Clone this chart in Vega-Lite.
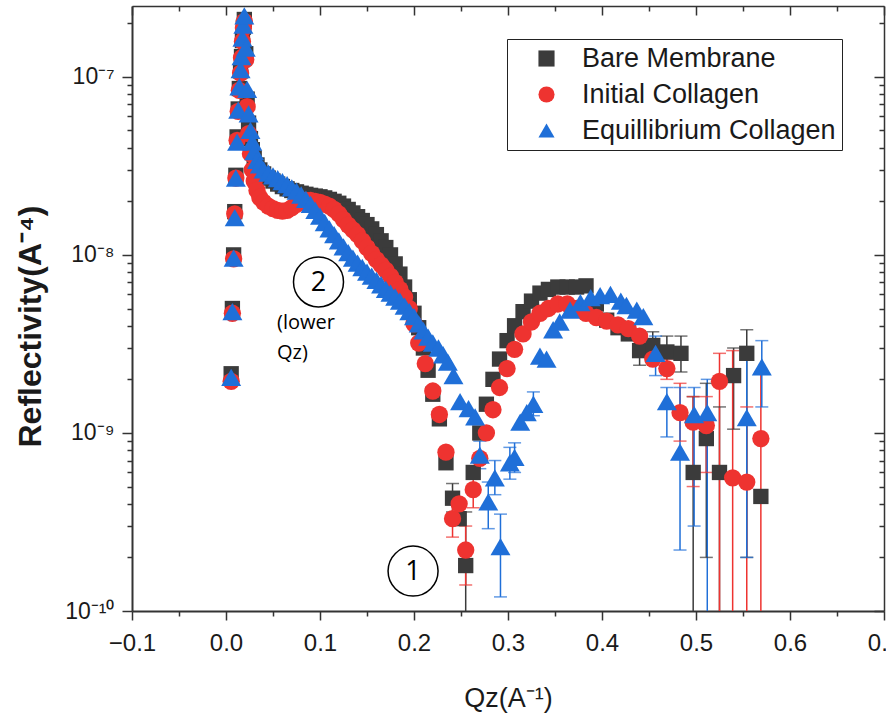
{
  "$schema": "https://vega.github.io/schema/vega-lite/v6.json",
  "width": 752,
  "height": 605,
  "autosize": {"type": "none"},
  "padding": {"left": 132, "top": 6, "right": 2, "bottom": 102},
  "background": "white",
  "datasets": {
    "pts": [
      {"series": "Bare Membrane", "q": 0.0055, "r": 2.15e-9},
      {"series": "Bare Membrane", "q": 0.0068, "r": 5.0e-9},
      {"series": "Bare Membrane", "q": 0.0081, "r": 1.0e-8},
      {"series": "Bare Membrane", "q": 0.0093, "r": 1.75e-8},
      {"series": "Bare Membrane", "q": 0.0105, "r": 2.8e-8},
      {"series": "Bare Membrane", "q": 0.0118, "r": 4.6e-8},
      {"series": "Bare Membrane", "q": 0.013, "r": 6.6e-8},
      {"series": "Bare Membrane", "q": 0.0142, "r": 8.6e-8},
      {"series": "Bare Membrane", "q": 0.0155, "r": 1.08e-7},
      {"series": "Bare Membrane", "q": 0.0165, "r": 1.3e-7},
      {"series": "Bare Membrane", "q": 0.0175, "r": 1.6e-7},
      {"series": "Bare Membrane", "q": 0.0185, "r": 1.9e-7},
      {"series": "Bare Membrane", "q": 0.0195, "r": 2.1e-7},
      {"series": "Bare Membrane", "q": 0.021, "r": 1.35e-7},
      {"series": "Bare Membrane", "q": 0.0225, "r": 7.5e-8},
      {"series": "Bare Membrane", "q": 0.024, "r": 5.5e-8},
      {"series": "Bare Membrane", "q": 0.026, "r": 4.5e-8},
      {"series": "Bare Membrane", "q": 0.028, "r": 3.9e-8},
      {"series": "Bare Membrane", "q": 0.03, "r": 3.5e-8},
      {"series": "Bare Membrane", "q": 0.033, "r": 3.2e-8},
      {"series": "Bare Membrane", "q": 0.036, "r": 3.0e-8},
      {"series": "Bare Membrane", "q": 0.04, "r": 2.85e-8},
      {"series": "Bare Membrane", "q": 0.045, "r": 2.7e-8},
      {"series": "Bare Membrane", "q": 0.05, "r": 2.6e-8},
      {"series": "Bare Membrane", "q": 0.055, "r": 2.5e-8},
      {"series": "Bare Membrane", "q": 0.06, "r": 2.42e-8},
      {"series": "Bare Membrane", "q": 0.065, "r": 2.35e-8},
      {"series": "Bare Membrane", "q": 0.07, "r": 2.3e-8},
      {"series": "Bare Membrane", "q": 0.075, "r": 2.26e-8},
      {"series": "Bare Membrane", "q": 0.08, "r": 2.22e-8},
      {"series": "Bare Membrane", "q": 0.085, "r": 2.19e-8},
      {"series": "Bare Membrane", "q": 0.09, "r": 2.16e-8},
      {"series": "Bare Membrane", "q": 0.095, "r": 2.14e-8},
      {"series": "Bare Membrane", "q": 0.1, "r": 2.12e-8},
      {"series": "Bare Membrane", "q": 0.105, "r": 2.09e-8},
      {"series": "Bare Membrane", "q": 0.11, "r": 2.05e-8},
      {"series": "Bare Membrane", "q": 0.115, "r": 2.0e-8},
      {"series": "Bare Membrane", "q": 0.12, "r": 1.95e-8},
      {"series": "Bare Membrane", "q": 0.125, "r": 1.88e-8},
      {"series": "Bare Membrane", "q": 0.13, "r": 1.8e-8},
      {"series": "Bare Membrane", "q": 0.135, "r": 1.72e-8},
      {"series": "Bare Membrane", "q": 0.14, "r": 1.64e-8},
      {"series": "Bare Membrane", "q": 0.145, "r": 1.56e-8},
      {"series": "Bare Membrane", "q": 0.15, "r": 1.48e-8},
      {"series": "Bare Membrane", "q": 0.155, "r": 1.4e-8},
      {"series": "Bare Membrane", "q": 0.16, "r": 1.3e-8},
      {"series": "Bare Membrane", "q": 0.165, "r": 1.2e-8},
      {"series": "Bare Membrane", "q": 0.17, "r": 1.1e-8},
      {"series": "Bare Membrane", "q": 0.175, "r": 1.0e-8},
      {"series": "Bare Membrane", "q": 0.18, "r": 8.9e-9},
      {"series": "Bare Membrane", "q": 0.185, "r": 7.8e-9},
      {"series": "Bare Membrane", "q": 0.19, "r": 6.6e-9},
      {"series": "Bare Membrane", "q": 0.195, "r": 5.6e-9},
      {"series": "Bare Membrane", "q": 0.2, "r": 4.7e-9},
      {"series": "Bare Membrane", "q": 0.205, "r": 3.9e-9},
      {"series": "Bare Membrane", "q": 0.21, "r": 3.0e-9},
      {"series": "Bare Membrane", "q": 0.215, "r": 2.25e-9},
      {"series": "Bare Membrane", "q": 0.22, "r": 1.65e-9},
      {"series": "Bare Membrane", "q": 0.227, "r": 1.2e-9},
      {"series": "Bare Membrane", "q": 0.234, "r": 6.8e-10},
      {"series": "Bare Membrane", "q": 0.241, "r": 4.3e-10},
      {"series": "Bare Membrane", "q": 0.248, "r": 3.3e-10},
      {"series": "Bare Membrane", "q": 0.255, "r": 1.8e-10},
      {"series": "Bare Membrane", "q": 0.263, "r": 6.0e-10},
      {"series": "Bare Membrane", "q": 0.27, "r": 1.0e-9},
      {"series": "Bare Membrane", "q": 0.277, "r": 1.45e-9},
      {"series": "Bare Membrane", "q": 0.284, "r": 2.0e-9},
      {"series": "Bare Membrane", "q": 0.291, "r": 2.6e-9},
      {"series": "Bare Membrane", "q": 0.299, "r": 3.3e-9},
      {"series": "Bare Membrane", "q": 0.307, "r": 4.0e-9},
      {"series": "Bare Membrane", "q": 0.316, "r": 4.8e-9},
      {"series": "Bare Membrane", "q": 0.325, "r": 5.5e-9},
      {"series": "Bare Membrane", "q": 0.334, "r": 6.1e-9},
      {"series": "Bare Membrane", "q": 0.343, "r": 6.4e-9},
      {"series": "Bare Membrane", "q": 0.353, "r": 6.6e-9},
      {"series": "Bare Membrane", "q": 0.363, "r": 6.6e-9},
      {"series": "Bare Membrane", "q": 0.373, "r": 6.6e-9},
      {"series": "Bare Membrane", "q": 0.383, "r": 6.7e-9},
      {"series": "Bare Membrane", "q": 0.394, "r": 5.3e-9},
      {"series": "Bare Membrane", "q": 0.405, "r": 4.3e-9},
      {"series": "Bare Membrane", "q": 0.417, "r": 3.9e-9},
      {"series": "Bare Membrane", "q": 0.428, "r": 3.6e-9},
      {"series": "Bare Membrane", "q": 0.44, "r": 2.9e-9},
      {"series": "Bare Membrane", "q": 0.454, "r": 3.1e-9},
      {"series": "Bare Membrane", "q": 0.469, "r": 2.85e-9},
      {"series": "Bare Membrane", "q": 0.484, "r": 2.8e-9},
      {"series": "Bare Membrane", "q": 0.497, "r": 6.0e-10},
      {"series": "Bare Membrane", "q": 0.511, "r": 9.3e-10},
      {"series": "Bare Membrane", "q": 0.525, "r": 6.0e-10},
      {"series": "Bare Membrane", "q": 0.54, "r": 2.1e-9},
      {"series": "Bare Membrane", "q": 0.554, "r": 2.8e-9},
      {"series": "Bare Membrane", "q": 0.569, "r": 4.4e-10},

      {"series": "Initial Collagen", "q": 0.0055, "r": 1.95e-9},
      {"series": "Initial Collagen", "q": 0.0068, "r": 4.7e-9},
      {"series": "Initial Collagen", "q": 0.0081, "r": 9.5e-9},
      {"series": "Initial Collagen", "q": 0.0093, "r": 1.7e-8},
      {"series": "Initial Collagen", "q": 0.0105, "r": 2.7e-8},
      {"series": "Initial Collagen", "q": 0.0118, "r": 4.4e-8},
      {"series": "Initial Collagen", "q": 0.013, "r": 6.4e-8},
      {"series": "Initial Collagen", "q": 0.0142, "r": 8.4e-8},
      {"series": "Initial Collagen", "q": 0.0155, "r": 1.05e-7},
      {"series": "Initial Collagen", "q": 0.0165, "r": 1.28e-7},
      {"series": "Initial Collagen", "q": 0.0175, "r": 1.58e-7},
      {"series": "Initial Collagen", "q": 0.0185, "r": 1.88e-7},
      {"series": "Initial Collagen", "q": 0.0195, "r": 2.05e-7},
      {"series": "Initial Collagen", "q": 0.021, "r": 1.25e-7},
      {"series": "Initial Collagen", "q": 0.0225, "r": 6.8e-8},
      {"series": "Initial Collagen", "q": 0.024, "r": 4.8e-8},
      {"series": "Initial Collagen", "q": 0.026, "r": 3.7e-8},
      {"series": "Initial Collagen", "q": 0.028, "r": 3.0e-8},
      {"series": "Initial Collagen", "q": 0.03, "r": 2.6e-8},
      {"series": "Initial Collagen", "q": 0.033, "r": 2.3e-8},
      {"series": "Initial Collagen", "q": 0.036, "r": 2.1e-8},
      {"series": "Initial Collagen", "q": 0.04, "r": 1.98e-8},
      {"series": "Initial Collagen", "q": 0.045, "r": 1.88e-8},
      {"series": "Initial Collagen", "q": 0.05, "r": 1.82e-8},
      {"series": "Initial Collagen", "q": 0.055, "r": 1.78e-8},
      {"series": "Initial Collagen", "q": 0.06, "r": 1.76e-8},
      {"series": "Initial Collagen", "q": 0.065, "r": 1.78e-8},
      {"series": "Initial Collagen", "q": 0.07, "r": 1.84e-8},
      {"series": "Initial Collagen", "q": 0.075, "r": 1.92e-8},
      {"series": "Initial Collagen", "q": 0.08, "r": 1.98e-8},
      {"series": "Initial Collagen", "q": 0.085, "r": 2.02e-8},
      {"series": "Initial Collagen", "q": 0.09, "r": 2.02e-8},
      {"series": "Initial Collagen", "q": 0.095, "r": 2.0e-8},
      {"series": "Initial Collagen", "q": 0.1, "r": 1.97e-8},
      {"series": "Initial Collagen", "q": 0.105, "r": 1.93e-8},
      {"series": "Initial Collagen", "q": 0.11, "r": 1.88e-8},
      {"series": "Initial Collagen", "q": 0.115, "r": 1.8e-8},
      {"series": "Initial Collagen", "q": 0.12, "r": 1.7e-8},
      {"series": "Initial Collagen", "q": 0.125, "r": 1.58e-8},
      {"series": "Initial Collagen", "q": 0.13, "r": 1.47e-8},
      {"series": "Initial Collagen", "q": 0.135, "r": 1.38e-8},
      {"series": "Initial Collagen", "q": 0.14, "r": 1.3e-8},
      {"series": "Initial Collagen", "q": 0.145, "r": 1.2e-8},
      {"series": "Initial Collagen", "q": 0.15, "r": 1.1e-8},
      {"series": "Initial Collagen", "q": 0.155, "r": 1.02e-8},
      {"series": "Initial Collagen", "q": 0.16, "r": 9.4e-9},
      {"series": "Initial Collagen", "q": 0.165, "r": 8.8e-9},
      {"series": "Initial Collagen", "q": 0.17, "r": 8.2e-9},
      {"series": "Initial Collagen", "q": 0.175, "r": 7.6e-9},
      {"series": "Initial Collagen", "q": 0.18, "r": 7.0e-9},
      {"series": "Initial Collagen", "q": 0.185, "r": 6.4e-9},
      {"series": "Initial Collagen", "q": 0.19, "r": 5.8e-9},
      {"series": "Initial Collagen", "q": 0.195, "r": 5.0e-9},
      {"series": "Initial Collagen", "q": 0.2, "r": 4.1e-9},
      {"series": "Initial Collagen", "q": 0.205, "r": 3.2e-9},
      {"series": "Initial Collagen", "q": 0.212, "r": 2.45e-9},
      {"series": "Initial Collagen", "q": 0.22, "r": 1.72e-9},
      {"series": "Initial Collagen", "q": 0.227, "r": 1.27e-9},
      {"series": "Initial Collagen", "q": 0.234, "r": 7.8e-10},
      {"series": "Initial Collagen", "q": 0.241, "r": 3.3e-10},
      {"series": "Initial Collagen", "q": 0.248, "r": 4.0e-10},
      {"series": "Initial Collagen", "q": 0.255, "r": 2.2e-10},
      {"series": "Initial Collagen", "q": 0.263, "r": 4.8e-10},
      {"series": "Initial Collagen", "q": 0.27, "r": 7.2e-10},
      {"series": "Initial Collagen", "q": 0.277, "r": 1.0e-9},
      {"series": "Initial Collagen", "q": 0.284, "r": 1.35e-9},
      {"series": "Initial Collagen", "q": 0.291, "r": 1.8e-9},
      {"series": "Initial Collagen", "q": 0.299, "r": 2.3e-9},
      {"series": "Initial Collagen", "q": 0.307, "r": 2.95e-9},
      {"series": "Initial Collagen", "q": 0.316, "r": 3.6e-9},
      {"series": "Initial Collagen", "q": 0.325, "r": 4.2e-9},
      {"series": "Initial Collagen", "q": 0.334, "r": 4.7e-9},
      {"series": "Initial Collagen", "q": 0.343, "r": 5.0e-9},
      {"series": "Initial Collagen", "q": 0.353, "r": 5.3e-9},
      {"series": "Initial Collagen", "q": 0.363, "r": 5.3e-9},
      {"series": "Initial Collagen", "q": 0.373, "r": 5.0e-9},
      {"series": "Initial Collagen", "q": 0.383, "r": 4.7e-9},
      {"series": "Initial Collagen", "q": 0.394, "r": 4.45e-9},
      {"series": "Initial Collagen", "q": 0.405, "r": 4.25e-9},
      {"series": "Initial Collagen", "q": 0.417, "r": 4.05e-9},
      {"series": "Initial Collagen", "q": 0.428, "r": 3.85e-9},
      {"series": "Initial Collagen", "q": 0.44, "r": 3.5e-9},
      {"series": "Initial Collagen", "q": 0.454, "r": 2.6e-9},
      {"series": "Initial Collagen", "q": 0.469, "r": 2.3e-9},
      {"series": "Initial Collagen", "q": 0.483, "r": 1.3e-9},
      {"series": "Initial Collagen", "q": 0.497, "r": 1.15e-9},
      {"series": "Initial Collagen", "q": 0.511, "r": 1.1e-9},
      {"series": "Initial Collagen", "q": 0.525, "r": 1.95e-9},
      {"series": "Initial Collagen", "q": 0.539, "r": 5.6e-10},
      {"series": "Initial Collagen", "q": 0.554, "r": 5.3e-10},
      {"series": "Initial Collagen", "q": 0.569, "r": 9.3e-10},

      {"series": "Equillibrium Collagen", "q": 0.0055, "r": 2.05e-9},
      {"series": "Equillibrium Collagen", "q": 0.0068, "r": 4.8e-9},
      {"series": "Equillibrium Collagen", "q": 0.0081, "r": 9.6e-9},
      {"series": "Equillibrium Collagen", "q": 0.0093, "r": 1.62e-8},
      {"series": "Equillibrium Collagen", "q": 0.0105, "r": 2.7e-8},
      {"series": "Equillibrium Collagen", "q": 0.0118, "r": 4.3e-8},
      {"series": "Equillibrium Collagen", "q": 0.013, "r": 6.5e-8},
      {"series": "Equillibrium Collagen", "q": 0.0142, "r": 8.8e-8},
      {"series": "Equillibrium Collagen", "q": 0.0155, "r": 1.1e-7},
      {"series": "Equillibrium Collagen", "q": 0.0165, "r": 1.3e-7},
      {"series": "Equillibrium Collagen", "q": 0.0175, "r": 1.65e-7},
      {"series": "Equillibrium Collagen", "q": 0.0185, "r": 1.95e-7},
      {"series": "Equillibrium Collagen", "q": 0.0195, "r": 2.2e-7},
      {"series": "Equillibrium Collagen", "q": 0.021, "r": 1.45e-7},
      {"series": "Equillibrium Collagen", "q": 0.0225, "r": 8.5e-8},
      {"series": "Equillibrium Collagen", "q": 0.024, "r": 6.2e-8},
      {"series": "Equillibrium Collagen", "q": 0.026, "r": 5.0e-8},
      {"series": "Equillibrium Collagen", "q": 0.028, "r": 4.3e-8},
      {"series": "Equillibrium Collagen", "q": 0.03, "r": 3.8e-8},
      {"series": "Equillibrium Collagen", "q": 0.033, "r": 3.4e-8},
      {"series": "Equillibrium Collagen", "q": 0.036, "r": 3.2e-8},
      {"series": "Equillibrium Collagen", "q": 0.04, "r": 3.0e-8},
      {"series": "Equillibrium Collagen", "q": 0.045, "r": 2.88e-8},
      {"series": "Equillibrium Collagen", "q": 0.05, "r": 2.78e-8},
      {"series": "Equillibrium Collagen", "q": 0.055, "r": 2.68e-8},
      {"series": "Equillibrium Collagen", "q": 0.06, "r": 2.58e-8},
      {"series": "Equillibrium Collagen", "q": 0.065, "r": 2.48e-8},
      {"series": "Equillibrium Collagen", "q": 0.07, "r": 2.38e-8},
      {"series": "Equillibrium Collagen", "q": 0.075, "r": 2.28e-8},
      {"series": "Equillibrium Collagen", "q": 0.08, "r": 2.17e-8},
      {"series": "Equillibrium Collagen", "q": 0.085, "r": 2.05e-8},
      {"series": "Equillibrium Collagen", "q": 0.09, "r": 1.92e-8},
      {"series": "Equillibrium Collagen", "q": 0.095, "r": 1.78e-8},
      {"series": "Equillibrium Collagen", "q": 0.1, "r": 1.65e-8},
      {"series": "Equillibrium Collagen", "q": 0.105, "r": 1.52e-8},
      {"series": "Equillibrium Collagen", "q": 0.11, "r": 1.4e-8},
      {"series": "Equillibrium Collagen", "q": 0.115, "r": 1.3e-8},
      {"series": "Equillibrium Collagen", "q": 0.12, "r": 1.2e-8},
      {"series": "Equillibrium Collagen", "q": 0.125, "r": 1.11e-8},
      {"series": "Equillibrium Collagen", "q": 0.13, "r": 1.03e-8},
      {"series": "Equillibrium Collagen", "q": 0.135, "r": 9.6e-9},
      {"series": "Equillibrium Collagen", "q": 0.14, "r": 9.0e-9},
      {"series": "Equillibrium Collagen", "q": 0.145, "r": 8.5e-9},
      {"series": "Equillibrium Collagen", "q": 0.15, "r": 8.0e-9},
      {"series": "Equillibrium Collagen", "q": 0.155, "r": 7.6e-9},
      {"series": "Equillibrium Collagen", "q": 0.16, "r": 7.2e-9},
      {"series": "Equillibrium Collagen", "q": 0.165, "r": 6.8e-9},
      {"series": "Equillibrium Collagen", "q": 0.17, "r": 6.4e-9},
      {"series": "Equillibrium Collagen", "q": 0.175, "r": 6.1e-9},
      {"series": "Equillibrium Collagen", "q": 0.18, "r": 5.8e-9},
      {"series": "Equillibrium Collagen", "q": 0.185, "r": 5.5e-9},
      {"series": "Equillibrium Collagen", "q": 0.19, "r": 5.15e-9},
      {"series": "Equillibrium Collagen", "q": 0.195, "r": 4.8e-9},
      {"series": "Equillibrium Collagen", "q": 0.2, "r": 4.5e-9},
      {"series": "Equillibrium Collagen", "q": 0.205, "r": 4.1e-9},
      {"series": "Equillibrium Collagen", "q": 0.21, "r": 3.75e-9},
      {"series": "Equillibrium Collagen", "q": 0.215, "r": 3.45e-9},
      {"series": "Equillibrium Collagen", "q": 0.22, "r": 3.2e-9},
      {"series": "Equillibrium Collagen", "q": 0.226, "r": 3.0e-9},
      {"series": "Equillibrium Collagen", "q": 0.231, "r": 2.75e-9},
      {"series": "Equillibrium Collagen", "q": 0.236, "r": 2.5e-9},
      {"series": "Equillibrium Collagen", "q": 0.242, "r": 2.1e-9},
      {"series": "Equillibrium Collagen", "q": 0.249, "r": 1.5e-9},
      {"series": "Equillibrium Collagen", "q": 0.258, "r": 1.37e-9},
      {"series": "Equillibrium Collagen", "q": 0.265, "r": 1.23e-9},
      {"series": "Equillibrium Collagen", "q": 0.27, "r": 7.5e-10},
      {"series": "Equillibrium Collagen", "q": 0.279, "r": 4.1e-10},
      {"series": "Equillibrium Collagen", "q": 0.286, "r": 5.6e-10},
      {"series": "Equillibrium Collagen", "q": 0.292, "r": 2.3e-10},
      {"series": "Equillibrium Collagen", "q": 0.302, "r": 6.8e-10},
      {"series": "Equillibrium Collagen", "q": 0.307, "r": 7.3e-10},
      {"series": "Equillibrium Collagen", "q": 0.313, "r": 1.15e-9},
      {"series": "Equillibrium Collagen", "q": 0.32, "r": 1.3e-9},
      {"series": "Equillibrium Collagen", "q": 0.327, "r": 1.45e-9},
      {"series": "Equillibrium Collagen", "q": 0.334, "r": 2.7e-9},
      {"series": "Equillibrium Collagen", "q": 0.341, "r": 2.6e-9},
      {"series": "Equillibrium Collagen", "q": 0.348, "r": 3.8e-9},
      {"series": "Equillibrium Collagen", "q": 0.355, "r": 4.2e-9},
      {"series": "Equillibrium Collagen", "q": 0.366, "r": 4.9e-9},
      {"series": "Equillibrium Collagen", "q": 0.377, "r": 5.4e-9},
      {"series": "Equillibrium Collagen", "q": 0.388, "r": 5.75e-9},
      {"series": "Equillibrium Collagen", "q": 0.398, "r": 5.9e-9},
      {"series": "Equillibrium Collagen", "q": 0.409, "r": 6.0e-9},
      {"series": "Equillibrium Collagen", "q": 0.42, "r": 5.5e-9},
      {"series": "Equillibrium Collagen", "q": 0.426, "r": 5.2e-9},
      {"series": "Equillibrium Collagen", "q": 0.437, "r": 4.9e-9},
      {"series": "Equillibrium Collagen", "q": 0.444, "r": 4.5e-9},
      {"series": "Equillibrium Collagen", "q": 0.457, "r": 2.8e-9},
      {"series": "Equillibrium Collagen", "q": 0.469, "r": 1.5e-9},
      {"series": "Equillibrium Collagen", "q": 0.483, "r": 7.8e-10},
      {"series": "Equillibrium Collagen", "q": 0.498, "r": 1.27e-9},
      {"series": "Equillibrium Collagen", "q": 0.512, "r": 1.3e-9},
      {"series": "Equillibrium Collagen", "q": 0.554, "r": 1.22e-9},
      {"series": "Equillibrium Collagen", "q": 0.57, "r": 2.35e-9}
    ],
    "err": [
      {"series": "Bare Membrane", "q": 0.241, "lo": 3.6e-10, "hi": 5.2e-10},
      {"series": "Bare Membrane", "q": 0.255, "lo": 1e-11, "hi": 3.6e-10},
      {"series": "Bare Membrane", "q": 0.44, "lo": 2.4e-9, "hi": 3.5e-9},
      {"series": "Bare Membrane", "q": 0.454, "lo": 2.5e-9, "hi": 3.7e-9},
      {"series": "Bare Membrane", "q": 0.469, "lo": 2.3e-9, "hi": 3.5e-9},
      {"series": "Bare Membrane", "q": 0.484, "lo": 2.2e-9, "hi": 3.5e-9},
      {"series": "Bare Membrane", "q": 0.497, "lo": 1e-11, "hi": 1.6e-9},
      {"series": "Bare Membrane", "q": 0.511, "lo": 2.0e-10, "hi": 1.9e-9},
      {"series": "Bare Membrane", "q": 0.525, "lo": 1e-11, "hi": 1.4e-9},
      {"series": "Bare Membrane", "q": 0.54, "lo": 1.05e-9, "hi": 3.0e-9},
      {"series": "Bare Membrane", "q": 0.554, "lo": 2.0e-10, "hi": 3.8e-9},
      {"series": "Initial Collagen", "q": 0.241, "lo": 2.6e-10, "hi": 4.2e-10},
      {"series": "Initial Collagen", "q": 0.255, "lo": 1.4e-10, "hi": 3.0e-10},
      {"series": "Initial Collagen", "q": 0.263, "lo": 3.8e-10, "hi": 6.0e-10},
      {"series": "Initial Collagen", "q": 0.469, "lo": 2.0e-9, "hi": 2.6e-9},
      {"series": "Initial Collagen", "q": 0.483, "lo": 9.0e-10, "hi": 1.9e-9},
      {"series": "Initial Collagen", "q": 0.497, "lo": 5.0e-10, "hi": 1.6e-9},
      {"series": "Initial Collagen", "q": 0.511, "lo": 6.0e-10, "hi": 1.6e-9},
      {"series": "Initial Collagen", "q": 0.525, "lo": 1e-11, "hi": 2.8e-9},
      {"series": "Initial Collagen", "q": 0.539, "lo": 1e-11, "hi": 2.9e-9},
      {"series": "Initial Collagen", "q": 0.554, "lo": 1e-11, "hi": 1.4e-9},
      {"series": "Initial Collagen", "q": 0.569, "lo": 1e-11, "hi": 2.2e-9},
      {"series": "Equillibrium Collagen", "q": 0.27, "lo": 6.3e-10, "hi": 9.0e-10},
      {"series": "Equillibrium Collagen", "q": 0.279, "lo": 2.9e-10, "hi": 5.3e-10},
      {"series": "Equillibrium Collagen", "q": 0.286, "lo": 4.5e-10, "hi": 7.0e-10},
      {"series": "Equillibrium Collagen", "q": 0.292, "lo": 1.2e-10, "hi": 3.5e-10},
      {"series": "Equillibrium Collagen", "q": 0.302, "lo": 5.5e-10, "hi": 8.3e-10},
      {"series": "Equillibrium Collagen", "q": 0.307, "lo": 6.0e-10, "hi": 8.8e-10},
      {"series": "Equillibrium Collagen", "q": 0.327, "lo": 1.25e-9, "hi": 1.7e-9},
      {"series": "Equillibrium Collagen", "q": 0.457, "lo": 2.1e-9, "hi": 3.5e-9},
      {"series": "Equillibrium Collagen", "q": 0.469, "lo": 9.5e-10, "hi": 1.8e-9},
      {"series": "Equillibrium Collagen", "q": 0.483, "lo": 2.2e-10, "hi": 1.8e-9},
      {"series": "Equillibrium Collagen", "q": 0.498, "lo": 3.0e-10, "hi": 1.8e-9},
      {"series": "Equillibrium Collagen", "q": 0.512, "lo": 1e-11, "hi": 2.0e-9},
      {"series": "Equillibrium Collagen", "q": 0.554, "lo": 2.0e-10, "hi": 3.0e-9},
      {"series": "Equillibrium Collagen", "q": 0.57, "lo": 1.4e-9, "hi": 3.3e-9}
    ],
    "circles": [
      {"q": 0.0984, "r": 7.05e-9, "label": "2"},
      {"q": 0.199, "r": 1.675e-10, "label": "1"}
    ],
    "notes": [
      {"q": 0.0543, "r": 3.82e-9, "label": "(lower"},
      {"q": 0.0543, "r": 2.6e-9, "label": "Qz)"}
    ]
  },
  "layer": [
    {
      "layer": [
        {
          "data": {"name": "err"},
          "mark": {"type": "rule", "strokeWidth": 1.5},
          "encoding": {
            "x": {"field": "q", "type": "quantitative", "scale": {"domain": [-0.1, 0.7], "nice": false, "zero": false}},
            "y": {"field": "lo", "type": "quantitative", "scale": {"type": "log", "domain": [1e-10, 2.5e-7], "nice": false, "clamp": true}},
            "y2": {"field": "hi"},
            "color": {"field": "series", "type": "nominal", "scale": {"domain": ["Bare Membrane", "Initial Collagen", "Equillibrium Collagen"], "range": ["#3b3b3b", "#ee3330", "#1f6fd8"]}}
          }
        },
        {
          "data": {"name": "err"},
          "mark": {"type": "tick", "orient": "horizontal", "size": 13, "thickness": 1.5},
          "encoding": {
            "x": {"field": "q", "type": "quantitative"},
            "y": {"field": "hi", "type": "quantitative"},
            "color": {"field": "series", "type": "nominal"}
          }
        },
        {
          "data": {"name": "err"},
          "transform": [{"filter": "datum.lo >= 1e-10"}],
          "mark": {"type": "tick", "orient": "horizontal", "size": 13, "thickness": 1.5},
          "encoding": {
            "x": {"field": "q", "type": "quantitative"},
            "y": {"field": "lo", "type": "quantitative"},
            "color": {"field": "series", "type": "nominal"}
          }
        },
        {
          "data": {"name": "pts"},
          "transform": [{"filter": "datum.series == 'Bare Membrane'"}],
          "mark": {"type": "point", "filled": true, "opacity": 1, "size": 235},
          "encoding": {
            "x": {
              "field": "q", "type": "quantitative",
              "title": "Qz(A⁻¹)",
              "axis": {
                "values": [-0.1, -0.05, 0, 0.05, 0.1, 0.15, 0.2, 0.25, 0.3, 0.35, 0.4, 0.45, 0.5, 0.55, 0.6, 0.65, 0.7],
                "labelExpr": "abs(datum.value*10 - round(datum.value*10)) < 0.01 ? format(datum.value, '.1f') : ''",
                "tickSize": {"condition": {"test": "abs(datum.value*10 - round(datum.value*10)) < 0.01", "value": 9}, "value": 5},
                "labelPadding": 11,
                "labelFontSize": 24,
                "labelOverlap": false,
                "labelFlush": false,
                "titleFontSize": 27,
                "titlePadding": 30,
                "titleFontWeight": "normal"
              }
            },
            "y": {
              "field": "r", "type": "quantitative",
              "title": "Reflectivity(A⁻⁴)",
              "axis": {
                "values": [1e-10, 2e-10, 3e-10, 4e-10, 5e-10, 6e-10, 7e-10, 8e-10, 9e-10, 1e-9, 2e-9, 3e-9, 4e-9, 5e-9, 6e-9, 7e-9, 8e-9, 9e-9, 1e-8, 2e-8, 3e-8, 4e-8, 5e-8, 6e-8, 7e-8, 8e-8, 9e-8, 1e-7, 2e-7],
                "labelExpr": "abs(log(datum.value)/LN10 - round(log(datum.value)/LN10)) < 0.01 ? (datum.value > 5e-8 ? '10⁻⁷' : datum.value > 5e-9 ? '10⁻⁸' : datum.value > 5e-10 ? '10⁻⁹' : '10⁻¹⁰') : ''",
                "tickSize": {"condition": {"test": "abs(log(datum.value)/LN10 - round(log(datum.value)/LN10)) < 0.01", "value": 10}, "value": 5},
                "labelPadding": 8,
                "labelFontSize": 23,
                "labelOverlap": false,
                "labelFlush": false,
                "titleFontSize": 32,
                "titleFontWeight": "bold",
                "titleX": -102,
                "titleY": 320,
                "titleBaseline": "middle",
                "titleAlign": "center"
              }
            },
            "color": {"field": "series", "type": "nominal", "title": null},
            "shape": {"field": "series", "type": "nominal", "title": null, "scale": {"domain": ["Bare Membrane", "Initial Collagen", "Equillibrium Collagen"], "range": ["square", "circle", "triangle-up"]}}
          }
        },
        {
          "data": {"name": "pts"},
          "transform": [{"filter": "datum.series == 'Initial Collagen'"}],
          "mark": {"type": "point", "filled": true, "opacity": 1, "size": 300},
          "encoding": {
            "x": {"field": "q", "type": "quantitative"},
            "y": {"field": "r", "type": "quantitative"},
            "color": {"field": "series", "type": "nominal", "title": null},
            "shape": {"field": "series", "type": "nominal", "title": null}
          }
        },
        {
          "data": {"name": "pts"},
          "transform": [{"filter": "datum.series == 'Equillibrium Collagen'"}],
          "mark": {"type": "point", "filled": true, "opacity": 1, "size": 400},
          "encoding": {
            "x": {"field": "q", "type": "quantitative"},
            "y": {"field": "r", "type": "quantitative"},
            "color": {"field": "series", "type": "nominal", "title": null},
            "shape": {"field": "series", "type": "nominal", "title": null}
          }
        },
        {
          "data": {"name": "circles"},
          "mark": {"type": "point", "shape": "circle", "filled": false, "stroke": "black", "strokeWidth": 1.5, "size": 2500, "opacity": 1},
          "encoding": {
            "x": {"field": "q", "type": "quantitative"},
            "y": {"field": "r", "type": "quantitative"}
          }
        },
        {
          "data": {"name": "circles"},
          "mark": {"type": "text", "font": "Open Sans", "fontSize": 27, "color": "black", "align": "center", "baseline": "middle", "dy": 1},
          "encoding": {
            "x": {"field": "q", "type": "quantitative"},
            "y": {"field": "r", "type": "quantitative"},
            "text": {"field": "label"}
          }
        },
        {
          "data": {"name": "notes"},
          "mark": {"type": "text", "font": "Open Sans", "fontSize": 20, "color": "black", "align": "left", "baseline": "alphabetic"},
          "encoding": {
            "x": {"field": "q", "type": "quantitative"},
            "y": {"field": "r", "type": "quantitative"},
            "text": {"field": "label"}
          }
        }
      ]
    },
    {
      "data": {"name": "circles"},
      "mark": {"type": "point", "opacity": 0},
      "encoding": {
        "x": {
          "field": "q", "type": "quantitative",
          "scale": {"domain": [-0.1, 0.7], "nice": false, "zero": false},
          "axis": {
            "orient": "top", "title": null, "labels": false,
            "values": [-0.1, -0.05, 0, 0.05, 0.1, 0.15, 0.2, 0.25, 0.3, 0.35, 0.4, 0.45, 0.5, 0.55, 0.6, 0.65, 0.7],
            "tickSize": {"condition": {"test": "abs(datum.value*10 - round(datum.value*10)) < 0.01", "value": -9}, "value": -5},
            "domainWidth": 1.5
          }
        },
        "y": {
          "field": "r", "type": "quantitative",
          "scale": {"type": "log", "domain": [1e-10, 2.5e-7], "nice": false, "clamp": true},
          "axis": {
            "orient": "right", "title": null, "labels": false,
            "values": [1e-10, 2e-10, 3e-10, 4e-10, 5e-10, 6e-10, 7e-10, 8e-10, 9e-10, 1e-9, 2e-9, 3e-9, 4e-9, 5e-9, 6e-9, 7e-9, 8e-9, 9e-9, 1e-8, 2e-8, 3e-8, 4e-8, 5e-8, 6e-8, 7e-8, 8e-8, 9e-8, 1e-7, 2e-7],
            "tickSize": {"condition": {"test": "abs(log(datum.value)/LN10 - round(log(datum.value)/LN10)) < 0.01", "value": -10}, "value": -5},
            "domainWidth": 1.5
          }
        }
      }
    }
  ],
  "resolve": {"axis": {"x": "independent", "y": "independent"}},
  "config": {
    "view": {"stroke": null},
    "font": "Liberation Sans",
    "axis": {
      "labelFont": "Liberation Sans",
      "labelFontSize": 23,
      "labelColor": "#1a1a1a",
      "tickColor": "#333333",
      "domainColor": "#333333",
      "domainWidth": 2,
      "tickWidth": 1.5,
      "grid": false,
      "titleFont": "Liberation Sans",
      "titleColor": "#1a1a1a"
    },
    "legend": {
      "orient": "none",
      "legendX": 375,
      "legendY": 33,
      "labelFont": "Liberation Sans",
      "labelFontSize": 27,
      "labelColor": "#1a1a1a",
      "labelLimit": 400,
      "strokeColor": "#222222",
      "fillColor": "white",
      "padding": 6,
      "symbolOffset": 20,
      "symbolSize": 260,
      "symbolOpacity": 1,
      "symbolStrokeWidth": 0,
      "rowPadding": 8,
      "labelOffset": 22
    }
  }
}
